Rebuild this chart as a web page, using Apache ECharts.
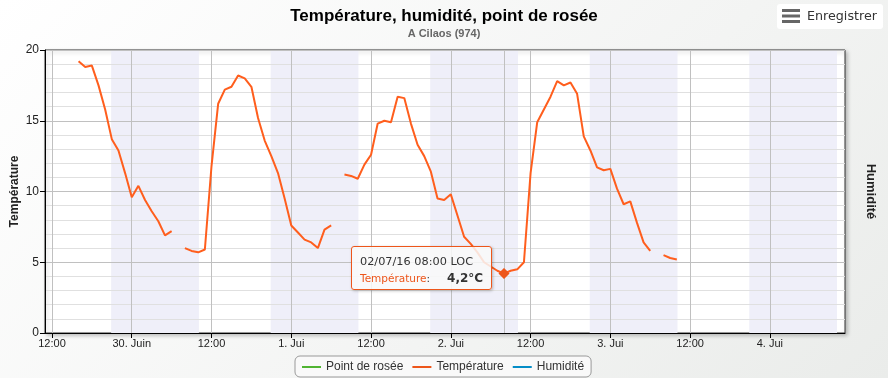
<!DOCTYPE html>
<html>
<head>
<meta charset="utf-8">
<script src="https://cdn.jsdelivr.net/npm/echarts@6/dist/echarts.min.js"></script>
<style>
html,body{margin:0;padding:0;}
body{width:888px;height:378px;background:linear-gradient(135deg,#ffffff 0%,#f3f4f3 60%,#eaecea 100%);}
#chart{width:888px;height:378px;}
</style>
</head>
<body>
<div id="chart"></div>
<script>
// ---- data (hours counted from 29/06/2016 00:00, hourly values) ----
const startHour = 16; // first value: 29/06 16:00
const temperature = [
  19.2, 18.8, 18.9, 17.5, 15.8, 13.7, 12.9, 11.3,            // 16h..23h (29/06)
  9.6, 10.4, 9.4, 8.6, 7.9, 6.9, 7.2, null, 6.0, 5.8, 5.7, 5.9, // 00h..11h (30/06)
  11.8, 16.2, 17.2, 17.4, 18.2, 18.0, 17.4, 15.2, 13.6, 12.5, 11.3, 9.5, // 12h..23h
  7.6, 7.1, 6.6, 6.4, 6.0, 7.3, 7.6, null, 11.2, 11.1, 10.9, 11.9, // 00h..11h (01/07)
  12.6, 14.8, 15.0, 14.9, 16.7, 16.6, 14.8, 13.3, 12.5, 11.4, 9.5, 9.4, // 12h..23h
  9.8, 8.3, 6.8, 6.3, 5.7, 5.0, 4.7, 4.4, 4.2, 4.4, 4.5, 5.0, // 00h..11h (02/07)
  11.3, 14.9, 15.8, 16.7, 17.8, 17.5, 17.7, 16.9, 13.9, 12.9, 11.7, 11.5, // 12h..23h
  11.6, 10.2, 9.1, 9.3, 7.8, 6.4, 5.8, null, 5.5, 5.3, 5.2   // 00h..10h (03/07)
];
const dewPoint = [];
const humidity = [];
const xTickHours = [12, 24, 36, 48, 60, 72, 84, 96, 108, 120];
const xTickLabels = ['12:00', '30. Juin', '12:00', '1. Jui', '12:00', '2. Jui', '12:00', '3. Jui', '12:00', '4. Jui'];
const nightStart = [20.9, 44.9, 68.9, 92.9, 116.9];
const nightEnd = [34.1, 58.1, 82.1, 106.1, 130.1];
const xMin = 10.95, xMax = 131.3;
const tooltipHour = 80;

const C_DEW = '#50B432', C_TEMP = '#ED561B', C_HUM = '#058DC7';
const FONT = 'Liberation Sans';

const tempData = temperature.map((v, i) => [startHour + i, v]);
const tipIndex = tooltipHour - startHour;

function pad(n){ return (n < 10 ? '0' : '') + n; }
function fmtDate(h){
  const d = new Date(Date.UTC(2016, 5, 29) + h * 3600e3);
  return pad(d.getUTCDate()) + '/' + pad(d.getUTCMonth() + 1) + '/' + String(d.getUTCFullYear()).slice(2) +
    ' ' + pad(d.getUTCHours()) + ':' + pad(d.getUTCMinutes()) + ' LOC';
}

const chart = echarts.init(document.getElementById('chart'), null, {renderer: 'canvas'});
chart.setOption({
  animation: false,
  backgroundColor: 'transparent',
  title: {
    text: 'Température, humidité, point de rosée',
    subtext: 'A Cilaos (974)',
    left: 'center', top: 3, itemGap: 3,
    textStyle: {fontFamily: FONT, fontSize: 17, fontWeight: 'bold', color: '#000'},
    subtextStyle: {fontFamily: FONT, fontSize: 11, fontWeight: 'bold', color: '#666'}
  },
  legend: {
    left: 295, bottom: 1,
    padding: [5, 7, 4, 7],
    itemGap: 9, itemWidth: 19, itemHeight: 2, icon: 'rect',
    borderColor: '#999', borderWidth: 1, borderRadius: 5,
    backgroundColor: '#f9f9f9',
    textStyle: {fontFamily: FONT, fontSize: 12, color: '#333'},
    data: ['Point de rosée', 'Température', 'Humidité']
  },
  grid: {
    left: 45, right: 43, top: 50, bottom: 45,
    containLabel: false, outerBoundsMode: 'none',
    show: true, backgroundColor: '#ffffff', borderColor: '#333', borderWidth: 1,
    shadowColor: 'rgba(0,0,0,0.25)', shadowBlur: 4, shadowOffsetX: 2, shadowOffsetY: 2
  },
  tooltip: {
    trigger: 'axis',
    triggerOn: 'none',
    alwaysShowContent: true,
    axisPointer: {type: 'line', z: 2.5, lineStyle: {color: '#c0c0c0', width: 1, type: 'solid'}, label: {show: false}},
    backgroundColor: 'rgba(249,249,249,0.85)',
    borderColor: C_TEMP, borderWidth: 1, borderRadius: 3,
    padding: [7, 8, 3, 8],
    extraCssText: 'box-shadow:1px 1px 3px rgba(0,0,0,0.25);',
    position: function (point, params, dom, rect, size) {
      return [point[0] - size.contentSize[0] - 12, point[1] - 28];
    },
    formatter: function (params) {
      const p = params.find(q => q.seriesName === 'Température');
      if (!p) return '';
      const h = p.value[0], v = p.value[1];
      return '<div style="font-family:\'DejaVu Sans\';font-size:11.3px;line-height:16px;color:#333;white-space:nowrap">' + fmtDate(h) + '</div>' +
        '<div style="line-height:15px;white-space:nowrap;color:#333">' +
        '<span style="font-family:\'DejaVu Sans\';font-size:10.5px;color:' + C_TEMP + '">Température</span>' +
        '<span style="font-family:\'DejaVu Sans\';font-size:10.5px">:</span>' +
        '<b style="font-family:\'DejaVu Sans\';font-size:12px;margin-left:17px">' + v.toFixed(1).replace('.', ',') + '°C</b></div>';
    }
  },
  xAxis: {
    type: 'value', min: xMin, max: xMax, z: 2,
    axisLine: {show: true, lineStyle: {color: '#000', width: 1}},
    axisTick: {show: true, length: 5, lineStyle: {color: '#000'}, customValues: xTickHours},
    axisLabel: {
      customValues: xTickHours, margin: 5,
      fontFamily: FONT, fontSize: 11, color: '#222',
      formatter: function (v) { const i = xTickHours.indexOf(v); return i >= 0 ? xTickLabels[i] : ''; }
    },
    splitLine: {show: true, lineStyle: {color: '#c0c0c0', width: 1}}
  },
  yAxis: [{
    type: 'value', min: 0, max: 20, interval: 5, z: 2,
    name: 'Température', nameLocation: 'middle', nameGap: 24, nameMoveOverlap: false,
    nameTextStyle: {fontFamily: FONT, fontSize: 12, fontWeight: 'bold', color: '#222'},
    axisLine: {show: true, lineStyle: {color: '#000', width: 1}},
    axisTick: {show: true, length: 5, lineStyle: {color: '#000'}},
    axisLabel: {margin: 6, fontFamily: FONT, fontSize: 12, color: '#222'},
    splitLine: {show: true, lineStyle: {color: '#c0c0c0', width: 1}},
    minorTick: {show: false, splitNumber: 5},
    minorSplitLine: {show: true, lineStyle: {color: '#e0e0e0', width: 1}}
  }, {
    type: 'value', min: 0, max: 100, position: 'right',
    name: 'Humidité', nameLocation: 'middle', nameGap: 19, nameRotate: -90, nameMoveOverlap: false,
    nameTextStyle: {fontFamily: FONT, fontSize: 13, fontWeight: 'bold', color: '#222'},
    axisLine: {show: false}, axisTick: {show: false}, axisLabel: {show: false}, splitLine: {show: false}
  }],
  graphic: [{
    type: 'group', left: 777, top: 4,
    children: [
      {type: 'rect', shape: {x: 0, y: 0, width: 106, height: 25, r: 3}, style: {fill: '#ffffff'}},
      {type: 'rect', shape: {x: 5, y: 5, width: 18, height: 3}, style: {fill: '#666'}},
      {type: 'rect', shape: {x: 5, y: 10.5, width: 18, height: 3}, style: {fill: '#666'}},
      {type: 'rect', shape: {x: 5, y: 16, width: 18, height: 3}, style: {fill: '#666'}},
      {type: 'text', x: 30, y: 13, style: {text: 'Enregistrer', font: '12.7px "DejaVu Sans"', fill: '#333', verticalAlign: 'middle'}}
    ]
  }],
  series: [{
    name: 'Point de rosée', type: 'line', data: dewPoint,
    itemStyle: {color: C_DEW}, lineStyle: {color: C_DEW, width: 2}, showSymbol: false
  }, {
    name: 'Température', type: 'line', data: tempData, z: 3,
    connectNulls: false, showSymbol: false,
    symbol: 'diamond', symbolSize: 10,
    itemStyle: {color: C_TEMP, borderWidth: 0},
    lineStyle: {color: C_TEMP, width: 2},
    emphasis: {scale: false, itemStyle: {color: C_TEMP, borderWidth: 0}, lineStyle: {width: 2}},
    markPoint: {
      silent: true, symbol: 'diamond', symbolSize: 11, z: 6,
      itemStyle: {color: C_TEMP, borderWidth: 0},
      label: {show: false},
      data: [{coord: tempData[tipIndex]}]
    },
    markArea: {
      silent: true, z: 1,
      itemStyle: {color: '#efeff9'},
      data: nightStart.map((s, i) => [{xAxis: s}, {xAxis: nightEnd[i]}])
    }
  }, {
    name: 'Humidité', type: 'line', data: humidity, yAxisIndex: 1,
    itemStyle: {color: C_HUM}, lineStyle: {color: C_HUM, width: 2}, showSymbol: false
  }]
});
setTimeout(function () {
  chart.dispatchAction({type: 'showTip', seriesIndex: 1, dataIndex: tipIndex});
}, 50);
</script>
</body>
</html>
